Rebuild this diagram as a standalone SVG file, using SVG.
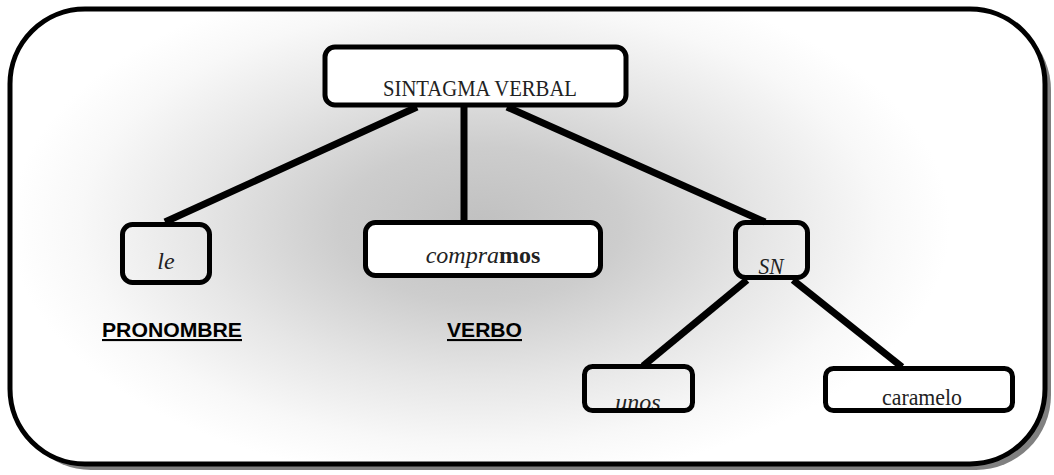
<svg xmlns="http://www.w3.org/2000/svg" width="1054" height="475" viewBox="0 0 1054 475">
<defs>
<radialGradient id="bg" gradientUnits="userSpaceOnUse" cx="480" cy="225" r="470" gradientTransform="translate(480 225) scale(1 0.55) translate(-480 -225)">
<stop offset="0" stop-color="#c0c0c0"/>
<stop offset="0.3" stop-color="#cdcdcd"/>
<stop offset="0.6" stop-color="#e6e6e6"/>
<stop offset="0.85" stop-color="#f8f8f8"/>
<stop offset="1" stop-color="#ffffff"/>
</radialGradient>
<style>
.box{fill:none;stroke:#000;stroke-width:5}
.wbox{fill:#fff;stroke:#000;stroke-width:5}
.lbl{font-family:"Liberation Serif",serif;font-size:24px;fill:#222;text-anchor:middle}
.it{font-style:italic}
.cat{font-family:"Liberation Sans",Arial,sans-serif;font-weight:bold;font-size:21px;fill:#000;text-decoration:underline}
.con{stroke:#000;stroke-width:7;fill:none}
</style>
</defs>
<g id="frame">
<rect x="16" y="15" width="1035" height="455" rx="75" fill="#808080"/>
<rect x="10" y="9" width="1035" height="455" rx="75" fill="url(#bg)" stroke="#000" stroke-width="5"/>
</g>
<g id="connectors">
<line class="con" x1="417" y1="107" x2="165" y2="222"/>
<line class="con" x1="464" y1="107" x2="464" y2="221"/>
<line class="con" x1="507" y1="107" x2="765" y2="222"/>
<line class="con" x1="747" y1="280" x2="643" y2="366"/>
<line class="con" x1="793" y1="280" x2="902" y2="367"/>
</g>
<g id="n-sv">
<rect class="wbox" x="325" y="47" width="301" height="58" rx="10"/>
<text class="lbl" x="480" y="96" font-size="27" textLength="194" lengthAdjust="spacingAndGlyphs">SINTAGMA VERBAL</text>
</g>
<g id="n-le">
<rect class="box" x="122.5" y="224.5" width="87" height="58" rx="10"/>
<text class="lbl it" x="166" y="269">le</text>
</g>
<g id="n-compramos">
<rect class="wbox" x="365.5" y="222.5" width="235" height="53" rx="10"/>
<text class="lbl it" x="483" y="263" font-size="22">compra<tspan font-weight="bold" font-style="normal">mos</tspan></text>
</g>
<g id="n-sn">
<rect class="box" x="735.5" y="222.5" width="72" height="55" rx="10"/>
<text class="lbl it" x="771" y="274" textLength="25" lengthAdjust="spacingAndGlyphs">SN</text>
</g>
<g id="n-unos">
<text class="lbl it" x="638" y="410">unos</text>
<rect class="box" x="584.5" y="366.5" width="108" height="44" rx="8"/>
</g>
<g id="n-caramelo">
<rect class="box" x="825.5" y="368.5" width="187" height="42" rx="8"/>
<text class="lbl" x="922" y="405" textLength="80" lengthAdjust="spacingAndGlyphs">caramelo</text>
</g>
<g id="l-pronombre">
<text class="cat" x="102" y="337" textLength="140" lengthAdjust="spacingAndGlyphs">PRONOMBRE</text>
</g>
<g id="l-verbo">
<text class="cat" x="447" y="337" textLength="75" lengthAdjust="spacingAndGlyphs">VERBO</text>
</g>
</svg>
